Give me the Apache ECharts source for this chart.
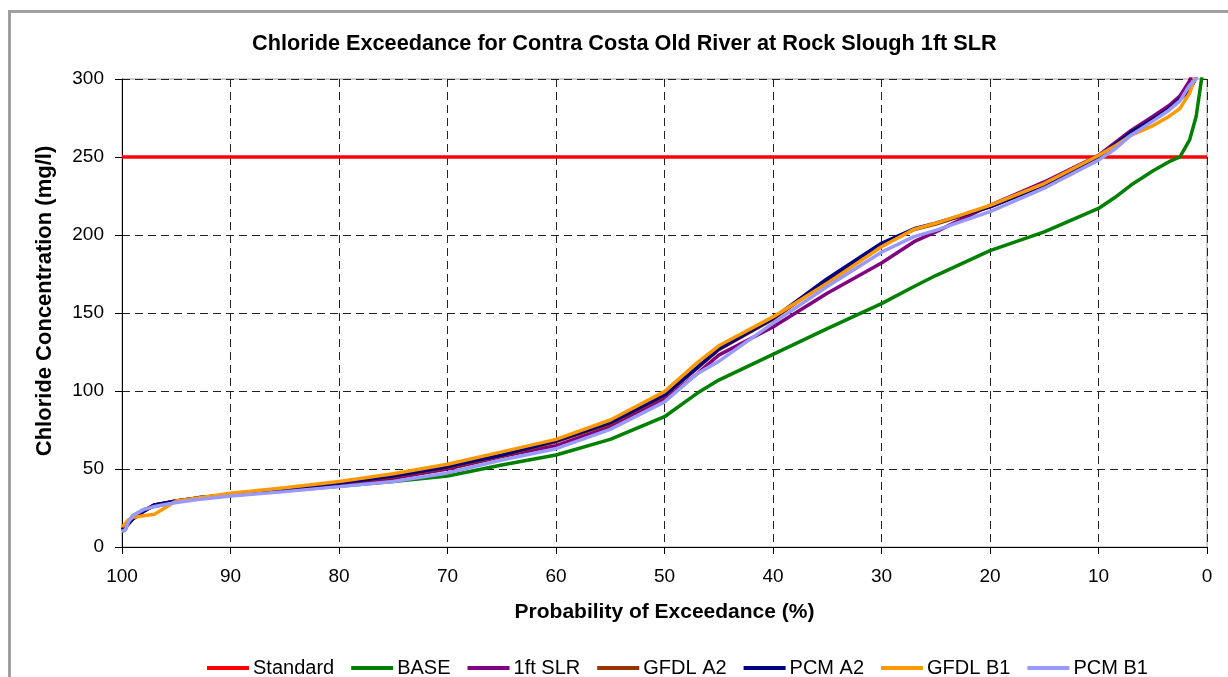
<!DOCTYPE html>
<html>
<head>
<meta charset="utf-8">
<script src="https://cdn.jsdelivr.net/npm/echarts@6/dist/echarts.min.js"></script>
<style>
html,body{margin:0;padding:0;background:#fff;}
#chart{width:1228px;height:677px;}
</style>
</head>
<body>
<div id="chart"></div>
<script>
const titleText = 'Chloride Exceedance for Contra Costa Old River at Rock Slough 1ft SLR';
const xAxisName = 'Probability of Exceedance (%)';
const yAxisName = 'Chloride Concentration (mg/l)';
const seriesNames = ['Standard', 'BASE', '1ft SLR', 'GFDL A2', 'PCM A2', 'GFDL B1', 'PCM B1'];

const probability = [100, 99.7, 99.4, 99, 98, 97, 95, 93, 90, 85, 80, 75, 70, 65, 60, 55, 50, 47, 45, 40, 35, 30, 27, 25, 20, 15, 10, 8.5, 7, 5, 3.5, 2.5, 1.6, 1, 0.5, 0];

const standardProb = [100, 0];
const standardValues = [250, 250];
const baseValues = [10, 11, 16, 20, 24, 26, 29, 31, 33, 36, 39, 42, 45.5, 52.6, 59, 69, 83.5, 98.5, 107, 123.5, 140, 156, 167, 174, 190, 202, 217, 224, 232, 241, 247, 250, 261, 276, 300, 340];
const slrValues = [12, 13, 15, 18, 23, 27, 29.5, 31.5, 33.5, 36.5, 40, 44, 50, 58, 65, 77, 94.6, 111, 123, 141, 162.6, 182, 195.7, 202, 219, 234, 251, 259, 267, 276, 283, 289, 299, 310, 320, 330];
const gfdlA2Values = [11, 12.5, 15, 18, 23, 27, 29.5, 31.5, 33.5, 37, 41, 45, 51, 58.5, 67.5, 79, 97, 114.5, 126.5, 146, 171, 194, 203.5, 207, 218, 232, 250, 258, 266, 274, 281, 287, 293, 301, 315, 330];
const pcmA2Values = [11, 12.5, 15, 18, 23, 27, 29.5, 31.5, 33.5, 37, 41, 45.5, 51.5, 59, 68, 79.7, 97.4, 115, 127, 146.5, 172, 194.7, 204, 207.5, 218, 232, 250, 258, 266, 274, 281, 287, 293, 301, 315, 330];
const gfdlB1Values = [13, 15, 17.5, 19, 20, 21, 29.5, 31.5, 34.4, 38, 42, 47, 53, 61, 69, 81.4, 99.6, 118, 129, 147.5, 169, 192.5, 203.6, 207.5, 219, 233, 251, 257, 264, 270, 276, 281, 291, 303, 315, 330];
const pcmB1Values = [10, 11, 16, 20, 24, 26, 28.5, 30.5, 32.7, 35.5, 38.7, 42, 47.5, 55.8, 63, 75.4, 93, 111, 119, 143.5, 167, 189, 199, 203, 215, 230, 248, 255, 264, 273, 280, 286, 296, 300, 315, 330];

const colors = ['#FF0000', '#008000', '#800080', '#993300', '#000080', '#FF9900', '#9999FF'];

function pairs(xs, ys) { return xs.map((x, i) => [x, ys[i]]); }

const seriesData = [
  pairs(standardProb, standardValues),
  pairs(probability, baseValues),
  pairs(probability, slrValues),
  pairs(probability, gfdlA2Values),
  pairs(probability, pcmA2Values),
  pairs(probability, gfdlB1Values),
  pairs(probability, pcmB1Values)
];

const FONT = '"Liberation Sans", Arial, sans-serif';
const chart = echarts.init(document.getElementById('chart'), null, {renderer: 'canvas'});

const option = {
  animation: false,
  backgroundColor: '#fff',
  title: {
    text: titleText,
    left: 252,
    top: 33,
    padding: 0,
    textStyle: {fontFamily: FONT, fontSize: 21.7, fontWeight: 'bold', color: '#000'}
  },
  grid: {
    left: 122, right: 21, top: 79, bottom: 130,
    show: true, borderColor: '#a0a0a0', borderWidth: 1, backgroundColor: 'transparent'
  },
  legend: {
    data: seriesNames,
    left: 207,
    top: 658,
    itemWidth: 42,
    itemHeight: 4,
    itemGap: 17,
    icon: 'rect',
    padding: 0,
    textStyle: {fontFamily: FONT, fontSize: 20, color: '#000', padding: [0, 0, 0, -1]}
  },
  xAxis: {
    type: 'value',
    min: 0, max: 100, interval: 10,
    inverse: true,
    name: xAxisName,
    nameLocation: 'middle',
    nameGap: 55,
    nameTextStyle: {fontFamily: FONT, fontSize: 21, fontWeight: 'bold', color: '#000'},
    axisLine: {show: true, onZero: false, lineStyle: {color: '#000', width: 1}},
    axisTick: {show: true, inside: false, length: 7, lineStyle: {color: '#000'}},
    axisLabel: {fontFamily: FONT, fontSize: 19, color: '#000', margin: 20},
    splitLine: {show: true, lineStyle: {color: '#222', type: [8, 5], width: 1}}
  },
  yAxis: {
    type: 'value',
    min: 0, max: 300, interval: 50,
    axisLine: {show: true, onZero: false, lineStyle: {color: '#000', width: 1}},
    axisTick: {show: true, inside: false, length: 7, lineStyle: {color: '#000'}},
    axisLabel: {fontFamily: FONT, fontSize: 19, color: '#000', margin: 18},
    splitLine: {show: true, lineStyle: {color: '#222', type: [8, 5], width: 1}}
  },
  graphic: [
    {
      type: 'rect', silent: true, z: -10,
      shape: {x: 9.5, y: 11.5, width: 1400, height: 900},
      style: {fill: 'none', stroke: '#a0a0a0', lineWidth: 3}
    },
    {
      type: 'text', silent: true,
      x: 45, y: 301, rotation: Math.PI / 2,
      style: {
        text: yAxisName, fontFamily: FONT, fontSize: 22, fontWeight: 'bold', fill: '#000',
        textAlign: 'center', textVerticalAlign: 'middle'
      }
    }
  ],
  series: seriesNames.map((name, i) => ({
    name: name,
    type: 'line',
    data: seriesData[i],
    showSymbol: false,
    symbol: 'none',
    clip: true,
    z: 2 + i,
    lineStyle: {color: colors[i], width: 3.5},
    itemStyle: {color: colors[i]}
  }))
};
chart.setOption(option);
</script>
</body>
</html>
